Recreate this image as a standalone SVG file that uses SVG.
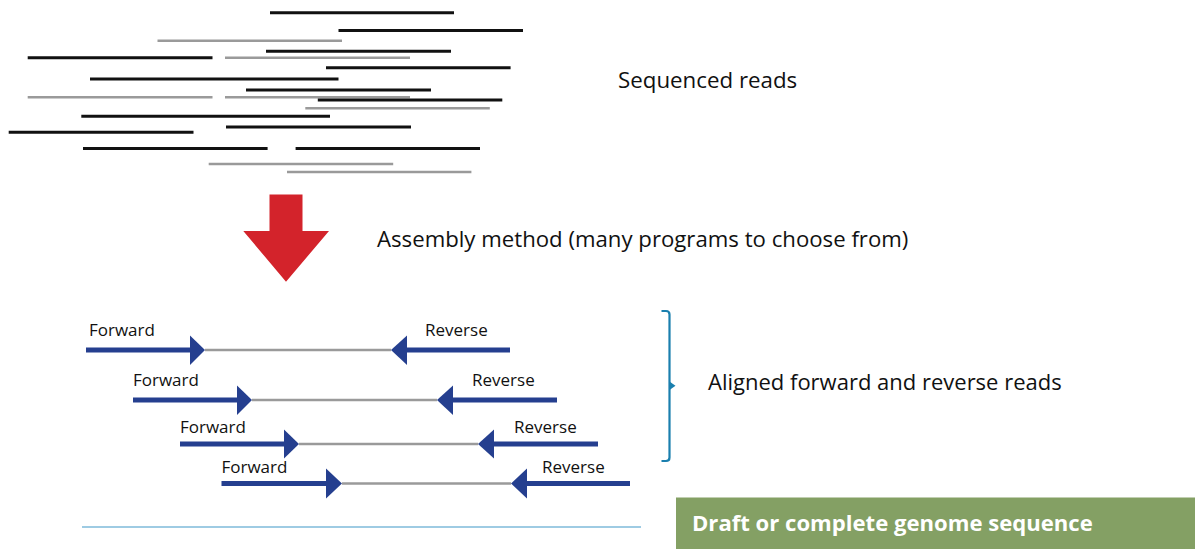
<svg xmlns="http://www.w3.org/2000/svg" width="1195" height="552" viewBox="0 0 1195 552">
<defs>
<style>
.rb{stroke:#111;stroke-width:3}
.rg{stroke:#9a9a9a;stroke-width:2.5}
.lbl{font-family:"Open Sans","Liberation Sans",sans-serif;font-size:17px;fill:#111}
.big{font-family:"Open Sans","Liberation Sans",sans-serif;font-size:22px;fill:#111}
.shaft{stroke:#253f8f;stroke-width:5}
.head{fill:#253f8f}
.gap{stroke:#9a9a9a;stroke-width:2.5}
</style>
</defs>
<rect width="1195" height="552" fill="#fff"/>
<g id="reads">
<line class="rb" x1="270" y1="12.8" x2="454" y2="12.8"/>
<line class="rb" x1="338.5" y1="30.5" x2="523" y2="30.5"/>
<line class="rg" x1="157.5" y1="40.8" x2="342" y2="40.8"/>
<line class="rb" x1="266" y1="51.2" x2="451" y2="51.2"/>
<line class="rb" x1="27.7" y1="57.8" x2="212.5" y2="57.8"/>
<line class="rg" x1="225" y1="57.8" x2="410" y2="57.8"/>
<line class="rb" x1="326" y1="67.8" x2="510.6" y2="67.8"/>
<line class="rb" x1="90" y1="78.9" x2="338.5" y2="78.9"/>
<line class="rb" x1="246" y1="90" x2="431" y2="90"/>
<line class="rg" x1="27.7" y1="97.3" x2="212.5" y2="97.3"/>
<line class="rg" x1="225" y1="97.3" x2="410" y2="97.3"/>
<line class="rb" x1="317.8" y1="100" x2="502.3" y2="100"/>
<line class="rg" x1="305.3" y1="108.3" x2="489.8" y2="108.3"/>
<line class="rb" x1="81.3" y1="116.3" x2="330" y2="116.3"/>
<line class="rb" x1="226" y1="127" x2="411" y2="127"/>
<line class="rb" x1="8.7" y1="132.2" x2="193.5" y2="132.2"/>
<line class="rb" x1="83" y1="148.5" x2="267.6" y2="148.5"/>
<line class="rb" x1="295.6" y1="148.5" x2="480" y2="148.5"/>
<line class="rg" x1="208.7" y1="164" x2="393.2" y2="164"/>
<line class="rg" x1="287" y1="172" x2="471.4" y2="172"/>
</g>
<g id="sequenced-label"><text class="big" x="618" y="87.5" style="font-size:22.3px">Sequenced reads</text></g>
<g id="red-arrow"><polygon points="269.5,194.5 302.5,194.5 302.5,231 329,231 286,281.7 243.3,231 269.5,231" fill="#d3232b"/></g>
<g id="assembly-label"><text class="big" x="377" y="247" style="font-size:22.2px">Assembly method (many programs to choose from)</text></g>
<g id="connectors">
<line class="gap" x1="205" y1="350" x2="391" y2="350"/>
<line class="gap" x1="252" y1="400" x2="437" y2="400"/>
<line class="gap" x1="299" y1="444" x2="478" y2="444"/>
<line class="gap" x1="342" y1="483.5" x2="511" y2="483.5"/>
</g>
<g id="pair1">
<text class="lbl" x="89" y="335.5">Forward</text>
<line class="shaft" x1="86" y1="350" x2="192" y2="350"/>
<polygon class="head" points="190,335.5 205,350 190,365"/>
<text class="lbl" x="425" y="335.5">Reverse</text>
<line class="shaft" x1="405" y1="350" x2="510" y2="350"/>
<polygon class="head" points="407,335.5 391,350 407,365"/>
</g>
<g id="pair2">
<text class="lbl" x="133" y="386">Forward</text>
<line class="shaft" x1="133" y1="400" x2="239" y2="400"/>
<polygon class="head" points="237,385.5 252,400 237,415"/>
<text class="lbl" x="472" y="386">Reverse</text>
<line class="shaft" x1="451" y1="400" x2="557" y2="400"/>
<polygon class="head" points="453,385.5 437,400 453,415"/>
</g>
<g id="pair3">
<text class="lbl" x="180" y="432.5">Forward</text>
<line class="shaft" x1="180" y1="444" x2="286" y2="444"/>
<polygon class="head" points="284,429.5 299,444 284,458.5"/>
<text class="lbl" x="514" y="432.5">Reverse</text>
<line class="shaft" x1="492" y1="444" x2="598" y2="444"/>
<polygon class="head" points="494,429.5 478,444 494,458.5"/>
</g>
<g id="pair4">
<text class="lbl" x="221.5" y="472.5">Forward</text>
<line class="shaft" x1="221.5" y1="483.5" x2="328" y2="483.5"/>
<polygon class="head" points="326,468.5 342,483.5 326,498.5"/>
<text class="lbl" x="542" y="472.5">Reverse</text>
<line class="shaft" x1="525" y1="483.5" x2="630" y2="483.5"/>
<polygon class="head" points="527,468.5 511,483.5 527,498.5"/>
</g>
<g id="bracket">
<path d="M661.5,311 H666 Q669.5,311 669.5,314.5 V457.5 Q669.5,461 666,461 H661.5" fill="none" stroke="#1a7fae" stroke-width="2.2"/>
<polygon points="669.5,381.5 675.5,385.7 669.5,390" fill="#1a7fae"/>
</g>
<g id="aligned-label"><text class="big" x="708" y="390" style="font-size:22px">Aligned forward and reverse reads</text></g>
<g id="genome-line"><line x1="82" y1="527" x2="641" y2="527" stroke="#9ecbe3" stroke-width="2.2"/></g>
<g id="genome-box">
<rect x="676" y="497.5" width="519" height="51.5" fill="#84a064"/>
<text x="692" y="531" style="font-family:'Open Sans','Liberation Sans',sans-serif;font-size:22.1px;font-weight:bold;fill:#fff">Draft or complete genome sequence</text>
</g>
</svg>
